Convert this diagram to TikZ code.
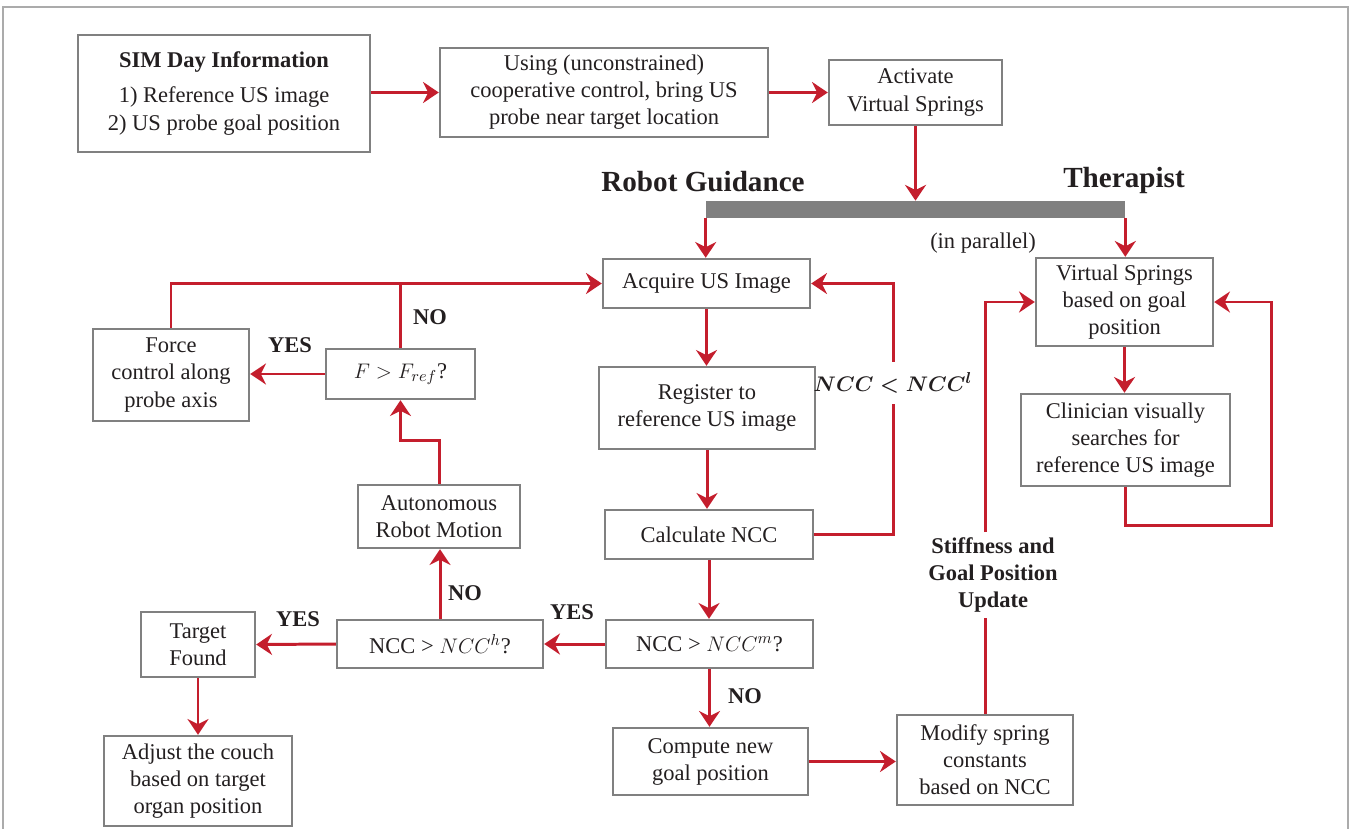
\documentclass[tikz,border=0pt]{standalone}
\usepackage{amsmath}
\usepackage{fontspec}
\setmainfont{Liberation Serif}
\usepackage{tikz}
\usetikzlibrary{arrows.meta}

\definecolor{flowred}{RGB}{196,30,45}
\definecolor{boxgray}{RGB}{128,128,128}
\definecolor{txtgray}{RGB}{35,31,32}

\begin{document}
\begin{tikzpicture}[x = 0.02cm, y = -0.02cm,
        every node/.style = {text=txtgray, font=\fontsize{12.8}{15.4}\selectfont},
        box/.style = {draw=boxgray, line width=1.4pt, fill=white, align=center, inner sep=0pt},
        redline/.style = {draw=flowred, line width=1.7pt},
        flow/.style = {redline, -{Stealth[length=9pt, width=12pt, inset=3pt]}},
        lbl/.style = {font=\fontsize{12.8}{15.4}\selectfont\bfseries},
        title/.style = {font=\fontsize{16.6}{19}\selectfont\bfseries}]
        \useasboundingbox (0,0) rectangle (1351,828);
        \clip (0,0) rectangle (1351,828);
        \draw [draw=black!33, line width=0.8pt] (3,7) rectangle (1348,870);
        
        \node [box, minimum width=5.84cm, minimum height=2.34cm] (sim) at (224,93.5) {\textbf{SIM Day Information}\\[0.16cm]1) Reference US image\\2) US probe goal position};
        \node [box, minimum width=6.56cm, minimum height=1.78cm] (bring) at (604,92.5) {Using (unconstrained)\\cooperative control, bring US\\probe near target location};
        \node [box, minimum width=3.46cm, minimum height=1.30cm] (activate) at (915.5,92.5) {Activate\\Virtual Springs};
        
        \node [fill=boxgray, minimum width=8.38cm, minimum height=0.34cm, inner sep=0pt] (bar) at (915.5,209.5) {};
        \node [title] (robot) at (703,182) {Robot Guidance};
        \node [title] (therapist) at (1124,180) {Therapist};
        \node (parallel) at (983,243) {(in parallel)};
        
        \node [box, minimum width=4.14cm, minimum height=0.98cm] (acquire) at (706.5,283.5) {Acquire US Image};
        \node [box, minimum width=4.32cm, minimum height=1.64cm] (register) at (707,408) {Register to\\reference US image};
        \node [box, minimum width=4.16cm, minimum height=0.98cm] (calc) at (709,534.5) {Calculate NCC};
        \node [box, minimum width=4.14cm, minimum height=0.96cm] (nccm) at (709.5,644) {NCC > $NCC^{m}$?};
        \node [box, minimum width=3.90cm, minimum height=1.34cm] (compute) at (710.5,761.5) {Compute new\\goal position};
        \node [box, minimum width=3.52cm, minimum height=1.80cm] (modify) at (985,760) {Modify spring\\constants\\based on NCC};
        
        \node [box, minimum width=3.54cm, minimum height=1.76cm] (springs) at (1124.5,302) {Virtual Springs\\based on goal\\position};
        \node [box, minimum width=4.18cm, minimum height=1.84cm] (clinician) at (1125.5,440) {Clinician visually\\searches for\\reference US image};
        
        \node [box, minimum width=4.12cm, minimum height=0.96cm] (ncch) at (440,644) {NCC > $NCC^{h}$?};
        \node [box, minimum width=3.24cm, minimum height=1.26cm] (auto) at (439,516.5) {Autonomous\\Robot Motion};
        \node [box, minimum width=2.98cm, minimum height=1.00cm] (fcheck) at (400.5,374) {$F > F_{ref}$?};
        \node [box, minimum width=3.12cm, minimum height=1.84cm] (force) at (171,375) {Force\\control along\\probe axis};
        \node [box, minimum width=2.28cm, minimum height=1.30cm] (target) at (198,644.5) {Target\\Found};
        \node [box, minimum width=3.76cm, minimum height=1.80cm] (adjust) at (198,781) {Adjust the couch\\based on target\\organ position};
        
        \node [inner sep=6pt] (nccl) at (893,383) {$\boldsymbol{NCC < NCC^{l}}$};
        \node [lbl, align=center, inner sep=3pt] (upd) at (993,575) {Stiffness and\\Goal Position\\Update};
        \node [lbl] (yes1) at (290,345) {YES};
        \node [lbl] (no1) at (430,317) {NO};
        \node [lbl] (yes2) at (298,619) {YES};
        \node [lbl] (no2) at (465,593) {NO};
        \node [lbl] (yes3) at (572,612) {YES};
        \node [lbl] (no3) at (745,696) {NO};
        \coordinate (loopr) at (1271,525);
        
        \draw [flow] (sim.east |- bring.west) -- (bring.west);
        \draw [flow] (bring.east) -- (activate.west);
        \draw [flow] (activate.south) -- (bar.north);
        \draw [flow] (bar.south west) -- (bar.south west |- acquire.north);
        \draw [flow] (bar.south east) -- (bar.south east |- springs.north);
        
        \draw [flow] (acquire.south) -- (acquire.south |- register.north);
        \draw [flow] (register.south) -- (register.south |- calc.north);
        \draw [flow] (calc.south) -- (calc.south |- nccm.north);
        \draw [flow] (nccm.south) -- (nccm.south |- compute.north);
        \draw [flow] (compute.east) -- (compute.east -| modify.west);
        \draw [redline] (calc.east) -| (nccl.south);
        \draw [flow] (nccl.north) |- (acquire.east);
        
        \draw [redline] (modify.north) -- (modify.north |- upd.south);
        \draw [flow] (modify.north |- upd.north) |- (springs.west);
        \draw [flow] (springs.south) -- (springs.south |- clinician.north);
        \draw [flow] (clinician.south) |- (loopr) |- (springs.east);
        
        \draw [flow] (nccm.west) -- (ncch.east);
        \draw [flow] (ncch.north) -- (ncch.north |- auto.south);
        \draw [flow] (auto.north) -- ++(0,-43) -| (fcheck.south);
        \draw [flow] (fcheck.west) -- (fcheck.west -| force.east);
        \draw [redline] (fcheck.north) -- (fcheck.north |- acquire.west);
        \draw [flow] (force.north) |- (acquire.west);
        \draw [flow] (ncch.west) -- (target.east);
        \draw [flow] (target.south) -- (target.south |- adjust.north);
        
    \end{tikzpicture}
\end{document}
